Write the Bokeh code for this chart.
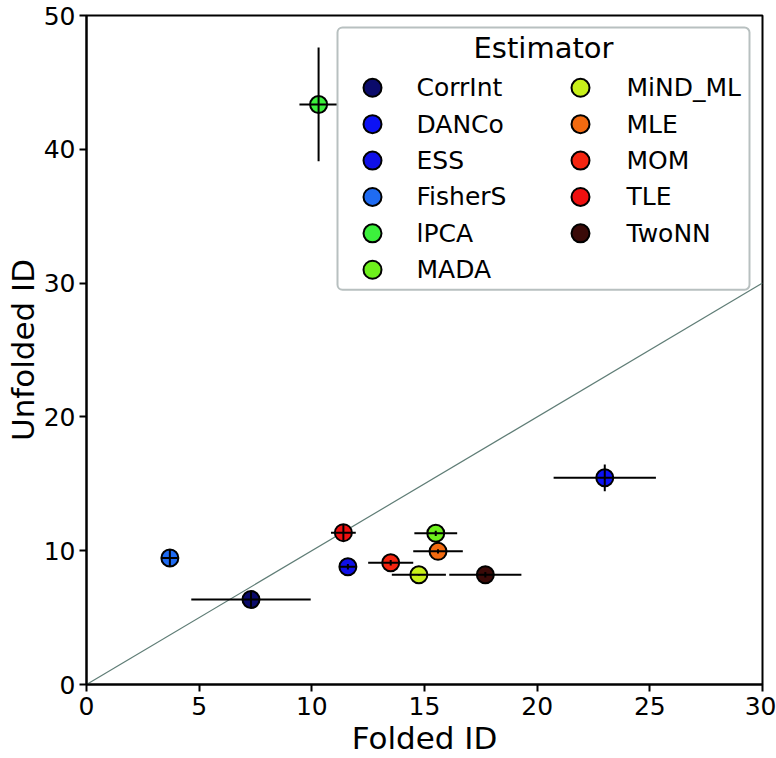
from bokeh.plotting import figure
from bokeh.models import ColumnDataSource, Label, FixedTicker, Range1d
from bokeh.embed import file_html
from bokeh.resources import INLINE

# ---- data ----
estimators = ["CorrInt", "DANCo", "ESS", "FisherS", "lPCA", "MADA",
              "MiND_ML", "MLE", "MOM", "TLE", "TwoNN"]
folded_id = [7.3, 23.0, 11.6, 3.7, 10.3, 15.5, 14.75, 15.6, 13.5, 11.4, 17.7]
folded_err = [2.65, 2.27, 0.35, 0.35, 0.85, 0.95, 1.2, 1.1, 1.0, 0.55, 1.6]
unfolded_id = [6.35, 15.45, 8.8, 9.45, 43.35, 11.3, 8.2, 9.95, 9.1, 11.35, 8.2]
unfolded_err = [0.6, 1.0, 0.2, 0.6, 4.25, 0.2, 0.05, 0.15, 0.2, 0.6, 0.2]
colors = ["#0b0b6b", "#0c12f5", "#1010e8", "#1f6bf2", "#3cf03c", "#6ef01c",
          "#c8f01a", "#f26a10", "#f52510", "#f01010", "#3a0a08"]
x_ticks = [0, 5, 10, 15, 20, 25, 30]
y_ticks = [0, 10, 20, 30, 40, 50]

FONT = "DejaVu Sans"
W, H = 776, 758
L, R, T, B = 86, 14, 15, 72

p = figure(width=W, height=H, output_backend="svg", toolbar_location=None,
           x_range=Range1d(0, 30), y_range=Range1d(0, 50),
           min_border_left=L, min_border_right=R, min_border_top=T, min_border_bottom=B)
p.xgrid.visible = False
p.ygrid.visible = False
p.outline_line_color = "black"
p.outline_line_width = 2
p.background_fill_color = "white"
p.border_fill_color = "white"

for ax in (p.xaxis[0], p.yaxis[0]):
    ax.axis_line_width = 2
    ax.major_tick_line_width = 2
    ax.major_tick_out = 7
    ax.major_tick_in = 0
    ax.minor_tick_line_color = None
    ax.major_label_text_font = FONT
    ax.major_label_text_font_size = "25px"
    ax.major_label_text_color = "black"
    ax.axis_label_text_font = FONT
    ax.axis_label_text_font_size = "31px"
    ax.axis_label_text_font_style = "normal"
    ax.axis_label_text_color = "black"

p.xaxis.ticker = FixedTicker(ticks=x_ticks)
p.yaxis.ticker = FixedTicker(ticks=y_ticks)
p.xaxis.axis_label = "Folded ID"
p.yaxis.axis_label = "Unfolded ID"
p.xaxis.major_label_standoff = 5
p.yaxis.major_label_standoff = 4
p.xaxis.axis_label_standoff = 2
p.yaxis.axis_label_standoff = 0

# diagonal y = x
p.line(x=[0, 30], y=[0, 30], line_color="#5f7d76", line_width=1.2)

src = ColumnDataSource(dict(
    x=folded_id, y=unfolded_id, c=colors, name=estimators,
    x0=[a - e for a, e in zip(folded_id, folded_err)],
    x1=[a + e for a, e in zip(folded_id, folded_err)],
    y0=[a - e for a, e in zip(unfolded_id, unfolded_err)],
    y1=[a + e for a, e in zip(unfolded_id, unfolded_err)],
))

p.scatter(x="x", y="y", source=src, size=17, fill_color="c",
          line_color="black", line_width=2)
p.segment(x0="x0", y0="y", x1="x1", y1="y", source=src, line_color="black", line_width=2)
p.segment(x0="x", y0="y0", x1="x", y1="y1", source=src, line_color="black", line_width=2)

# ---- legend (drawn manually, positions in pixels converted to data) ----
FW, FH = W - L - R, H - T - B

def px2x(px):
    return (px - L) / FW * 30.0

def px2y(py):
    return (H - B - py) / FH * 50.0

p.quad(left=[px2x(337)], right=[px2x(749)], top=[px2y(27)], bottom=[px2y(290)],
       fill_color="white", fill_alpha=0.85, line_color="#b8c0c0",
       line_width=2, border_radius=5)

p.add_layout(Label(x=px2x(543), y=px2y(48), text="Estimator", text_font=FONT,
                   text_font_size="29px", text_align="center", text_baseline="middle",
                   text_color="black"))

row_y = [87.5, 124, 160.5, 197, 233.5, 270]
col_marker = [372, 580]
col_text = [416, 626]
lx, ly = [], []
for i, name in enumerate(estimators):
    col, row = divmod(i, 6)
    lx.append(px2x(col_marker[col]))
    ly.append(px2y(row_y[row]))
    p.add_layout(Label(x=px2x(col_text[col]), y=px2y(row_y[row]), text=name,
                       text_font=FONT, text_font_size="25px", text_align="left",
                       text_baseline="middle", text_color="black"))
p.scatter(x=lx, y=ly, size=18, fill_color=colors, line_color="black", line_width=2)

open("out.html", "w").write(file_html(p, INLINE))
